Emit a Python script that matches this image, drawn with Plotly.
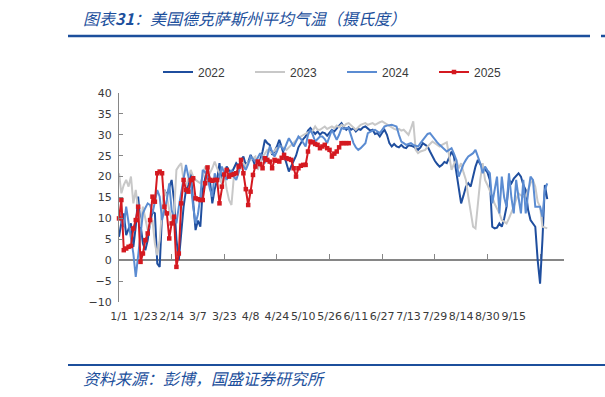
import plotly.graph_objects as go

# ---------------- data ----------------
x_labels = ["1/1", "1/23", "2/14", "3/7", "3/23", "4/8", "4/24", "5/10", "5/26",
            "6/11", "6/27", "7/13", "7/29", "8/14", "8/30", "9/15"]
label_step = 11      # categories between two labels
tick_step = 22       # categories between two tick marks
n_categories = 187

t2022 = [5.6, 9, 11.2, 6, 7.5, 8.8, 3.2, 8, 15.2, 8.5,
         4, 2.4, 4.8, 9, 11.6, 11.2, -0.8, -1.6, 11.2, 16.8,
         15.5, 17.6, 19.2, 14.4, 5, 0, 6.4, 12.8, 16.8, 18,
         20.8, 13.6, 7.2, 9.5, 8, 16.8, 20, 22.4, 19.2, 13.6,
         17, 19.2, 23.2, 18.4, 20, 22.4, 21.5, 20.8, 22, 23.2,
         22.5, 24, 24.8, 22.8, 23.5, 25.2, 24, 22.4, 23, 24,
         26, 28.8, 28, 27.6, 25.2, 26, 27.2, 28.8, 27, 25.2,
         23, 21.2, 22.5, 23.6, 25, 27, 28, 29, 29.6, 31,
         31.6, 31, 30.2, 30.8, 30, 30.6, 30.4, 29.8, 30.5, 31.2,
         30.8, 31.6, 32.2, 32.8, 31.8, 31.2, 31.8, 31.2, 31.6, 30.8,
         31.4, 31.2, 31.8, 32, 31.5, 31, 31.2, 30.2, 30.4, 29.6,
         30.5, 31.2, 30, 28, 27.2, 27.8, 27.2, 27, 27.6, 27,
         26.8, 27.5, 27.4, 27.2, 26.8, 26.4, 27, 28, 27.6, 27.2,
         26, 24.8, 23.8, 23, 22.4, 22.8, 23.5, 23.2, 24.5, 26,
         24.8, 21, 17.6, 13.6, 15.5, 17.6, 18.4, 17.6, 20, 22.4,
         24, 23, 22.4, 21.6, 21, 19.2, 8, 7.6, 7.8, 8.8,
         8, 10, 12.8, 19.2, 18.4, 19.5, 20.2, 20.8, 20, 18,
         16.8, 12, 9.6, 8.8, 8, 0, -5.6, 5, 18, 14.6]

t2023 = [20.8, 16, 18, 19.2, 17.6, 20, 13.6, 16.8, 12, 8,
         12.8, 10, 7.2, 8.5, 9.6, 4, 1.2, 4.8, 12, 16.8,
         15.2, 12, 9.6, 11.2, 21.6, 22.5, 23.2, 19.2, 17.6, 19.5,
         21.6, 20, 19.2, 18.8, 18.4, 20, 22.4, 21.5, 20.8, 22,
         23.6, 22, 20.8, 18.4, 20.8, 17, 14.4, 13.2, 20, 21,
         21.6, 22.4, 23.2, 22.4, 23.5, 24, 24.4, 24.8, 21.6, 23.5,
         24.8, 25.5, 26.4, 26, 25.6, 26.2, 26.8, 27, 27.2, 26.8,
         26.4, 27, 27.6, 28, 28.6, 29.2, 29.6, 30, 30.4, 30.6,
         30.8, 31, 32, 31.2, 31.2, 31.6, 32, 31.4, 31.8, 32,
         31.6, 32.2, 31.8, 32.4, 32, 32.6, 32.8, 32.2, 31.8, 31.2,
         31.8, 32.4, 32.6, 32.8, 32.4, 32.6, 32.8, 32.4, 32.8, 33,
         33.2, 32.8, 32.4, 32, 31.6, 31.4, 31.2, 31.4, 31, 31.2,
         30.6, 30, 31.5, 33.2, 26.4, 25.6, 26, 26.2, 26.4, 27.2,
         27.8, 28.4, 28, 27.6, 27.2, 27.6, 28, 28.2, 25, 21.6,
         23, 24, 22, 23.2, 21, 19.2, 15.2, 12, 8, 7.6,
         14, 19.2, 23.2, 19.2, 18, 16.8, 15.2, 13.5, 12.4, 11.2,
         9.6, 9.2, 8.8, 10, 11.2, 12.8, 14.5, 16, 15.5, 15.2,
         15.2, 17, 18.4, 19.2, 17.6, 14, 12.8, 8, 7.8, 7.6]

t2024 = [12, 9, 8, 12.8, 9, 5.6, 1.6, -4, 1.6, 5.6,
         11.2, 12.5, 13.6, 13.2, 11.2, 14, 16.8, 15.2, 9.6, 12,
         14.4, 18.4, 12, 10, 8.8, 12.8, 16, 20, 22.8, 20,
         18.4, 12.8, 8.8, 11, 15.2, 21.6, 21, 20, 17, 15.2,
         20.8, 18.4, 20, 22.4, 21, 19.2, 20.5, 21.6, 20, 19.2,
         21, 23.2, 22.5, 21.6, 23, 24.8, 24.2, 23.6, 24.5, 25.6,
         24.5, 23.2, 25, 27.2, 26, 24.8, 26, 27.6, 27, 26.4,
         27.8, 29.2, 28.2, 27.2, 28.4, 29.6, 29, 28, 27.2, 30,
         31.2, 30, 28.4, 29, 29.6, 29.6, 29, 28, 29.5, 31.2,
         30, 28.8, 30, 31.6, 31.4, 31.6, 31.6, 30, 28, 27,
         26.4, 26.8, 27.4, 28, 30.4, 30.8, 31, 31.2, 30.8, 30.4,
         31.2, 32, 32.2, 32.3, 32.4, 32.2, 32, 30, 28.4, 28,
         27.6, 27.8, 28, 27.6, 27.4, 27.2, 28, 28.8, 29.6, 30.2,
         30.4, 29.6, 28.8, 28.2, 27.6, 27, 26.5, 26, 26.4, 26.8,
         25.5, 24, 20, 21.6, 23, 24, 24.8, 25.2, 25.6, 26.4,
         25, 23.2, 20.8, 22.4, 21.5, 20.8, 13.6, 17, 20, 11.2,
         20, 15, 12.8, 20.8, 15, 11.2, 19.2, 15, 11.2, 19.2,
         11.2, 16, 20, 19.2, 12.8, 12.8, 12.8, 10.4, 16.8, 18.4]

t2025 = [10, 14.4, 2.4, 2.8, 3.2, 3.4, 7.6, 9.6, 12.8, -0.4,
         1.6, 4.8, 6.4, 9.6, 15.2, 14, 20.8, 21.2, 20.8, 12.8,
         11.2, 5.2, 8.8, 10.4, -1.6, 1.6, 13.6, 19.2, 16.8, 16.4,
         19.2, 19.6, 14.8, 14.6, 14.4, 14.4, 18.4, 22.2, 19.2, 19,
         19.2, 19.2, 13.6, 17.6, 20.5, 21.6, 20, 20.4, 20.6, 20.8,
         22.4, 24, 20.8, 17, 13.2, 16.4, 20.4, 22.4, 23.6, 23,
         22, 24.4, 24, 23.6, 22, 24, 23.8, 23.6, 24.5, 25.2,
         24.4, 24.2, 24, 22, 20, 22, 22.6, 22.8, 22.8, 26,
         28.4, 28.2, 27.8, 27.6, 26.8, 27.2, 27.6, 26.8, 26.4, 24.8,
         25.5, 26, 27, 28, 28, 28, 28]

y_min, y_max, y_step = -10, 40, 5

# ---------------- layout helpers ----------------
W, H = 605, 397
L, R, T, B = 119, 41, 93, 95
PW, PH = W - L - R, H - T - B


def px_x(px):
    return (px - L) / PW


def px_y(py):
    return (H - B - py) / PH


BLUE = "#1C4F9C"
AXIS = "#868686"
TXT = "#3a3a3a"

fig = go.Figure()
series = [("2022", t2022, "#1F4E9E"),
          ("2023", t2023, "#C8C8C8"),
          ("2024", t2024, "#5B8CD2")]
for name, vals, col in series:
    fig.add_trace(go.Scatter(x=list(range(len(vals))), y=vals, mode="lines",
                             name=name, line=dict(color=col, width=2),
                             hoverinfo="skip"))
fig.add_trace(go.Scatter(x=list(range(len(t2025))), y=t2025, mode="lines+markers",
                         name="2025", line=dict(color="#D41920", width=2),
                         marker=dict(symbol="square", size=4.5, color="#D41920"),
                         cliponaxis=False, hoverinfo="skip"))
# helper trace so the zero-line axis is drawn
fig.add_trace(go.Scatter(x=[], y=[], xaxis="x2", showlegend=False, hoverinfo="skip"))

fig.update_layout(
    width=W, height=H,
    margin=dict(l=L, r=R, t=T, b=B),
    paper_bgcolor="white", plot_bgcolor="white",
    font=dict(family="DejaVu Sans", size=11, color=TXT),
    showlegend=True,
    legend=dict(orientation="h", x=px_x(158), y=px_y(72), xanchor="left", yanchor="middle",
                font=dict(family="Liberation Sans", size=12, color=TXT),
                entrywidth=47, entrywidthmode="pixels", bgcolor="rgba(0,0,0,0)",
                tracegroupgap=0),
    xaxis=dict(range=[0, n_categories - 1], tickmode="array",
               tickvals=[i * label_step for i in range(len(x_labels))], ticktext=x_labels,
               tickangle=0, showline=False, showgrid=False, zeroline=False,
               ticks="outside", ticklen=4, tickcolor="rgba(0,0,0,0)",
               tickfont=dict(family="DejaVu Sans", size=11, color=TXT)),
    xaxis2=dict(overlaying="x", anchor="free",
                position=(0 - y_min) / (y_max - y_min),
                range=[0, n_categories - 1], tick0=0, dtick=tick_step,
                showline=True, linecolor=AXIS, linewidth=1.5,
                ticks="inside", ticklen=5, tickcolor=AXIS, tickwidth=1,
                showticklabels=False, showgrid=False, zeroline=False,
                layer="below traces"),
    yaxis=dict(range=[y_min, y_max], dtick=y_step, tick0=0,
               showline=True, linecolor=AXIS, linewidth=1,
               ticks="inside", ticklen=4, tickcolor=AXIS,
               showgrid=False, zeroline=False, ticklabelstandoff=4,
               tickfont=dict(family="DejaVu Sans", size=11, color=TXT)),
)

fig.add_annotation(text="图表<b>31</b>：美国德克萨斯州平均气温（摄氏度）",
                   xref="paper", yref="paper", x=px_x(81), y=px_y(18),
                   xanchor="left", yanchor="middle", showarrow=False,
                   font=dict(family="Noto Sans CJK SC", size=16, color=BLUE, style="italic"))
fig.add_annotation(text="资料来源：彭博，国盛证券研究所",
                   xref="paper", yref="paper", x=px_x(81), y=px_y(378),
                   xanchor="left", yanchor="middle", showarrow=False,
                   font=dict(family="Noto Sans CJK SC", size=16, color=BLUE, style="italic"))

fig.add_shape(type="line", xref="paper", yref="paper",
              x0=px_x(68), x1=px_x(590), y0=px_y(36), y1=px_y(36),
              line=dict(color=BLUE, width=2.5))
fig.add_shape(type="line", xref="paper", yref="paper",
              x0=px_x(601), x1=px_x(605), y0=px_y(36), y1=px_y(36),
              line=dict(color=BLUE, width=2.5))
fig.add_shape(type="line", xref="paper", yref="paper",
              x0=px_x(68), x1=px_x(605), y0=px_y(365), y1=px_y(365),
              line=dict(color=BLUE, width=2))

fig.write_html("out.html", config={"displayModeBar": False},
               post_script="document.body.style.margin='0';document.body.style.padding='0';")
